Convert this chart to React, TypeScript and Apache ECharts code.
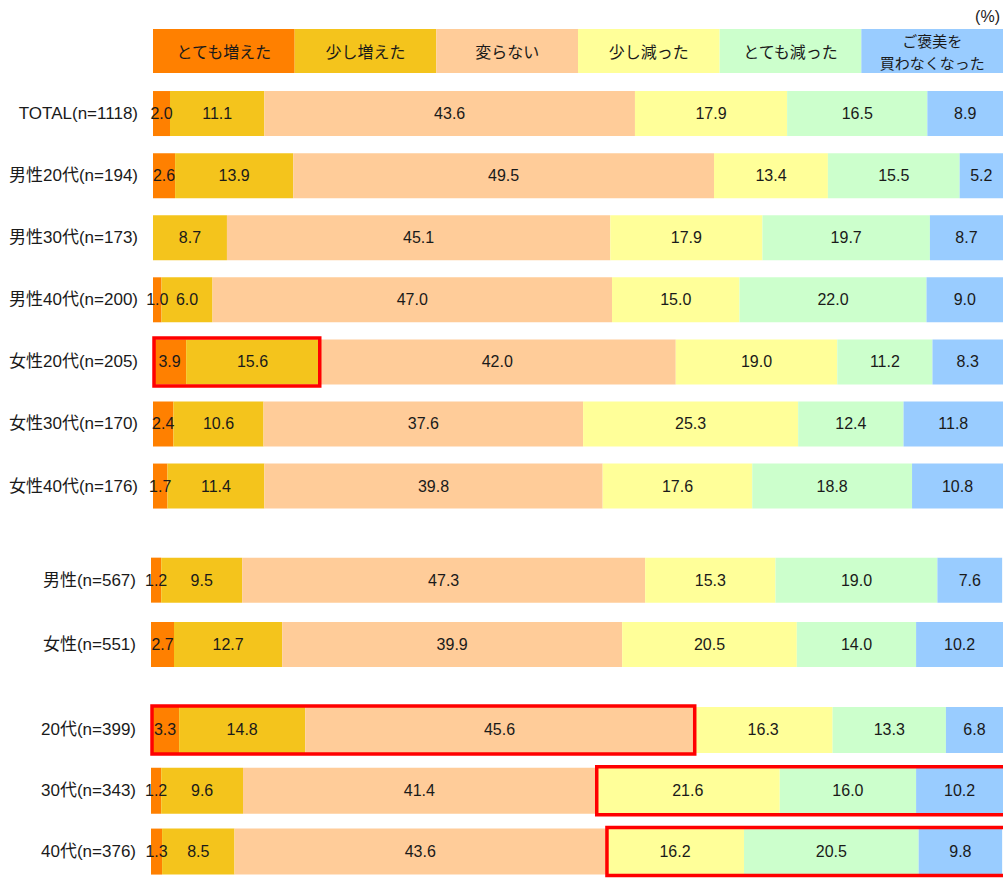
import React, { useEffect, useRef } from 'react';
import * as echarts from 'echarts';

// Row labels, split into the three blocks of the chart
const ageGenderRows = [
  'TOTAL(n=1118)',
  '男性20代(n=194)',
  '男性30代(n=173)',
  '男性40代(n=200)',
  '女性20代(n=205)',
  '女性30代(n=170)',
  '女性40代(n=176)',
];
const genderRows = ['男性(n=567)', '女性(n=551)'];
const ageRows = ['20代(n=399)', '30代(n=343)', '40代(n=376)'];
const rowGroups = [ageGenderRows, genderRows, ageRows];

// Answer categories (header boxes, one line per entry) and their colours
const answerNames = ['とても増えた', '少し増えた', '変らない', '少し減った', 'とても減った', 'ご褒美を買わなくなった'];
const headerLines = [['とても増えた'], ['少し増えた'], ['変らない'], ['少し減った'], ['とても減った'], ['ご褒美を', '買わなくなった']];
const answerColors = ['#FF8000', '#F4C41C', '#FFCC99', '#FFFF99', '#CCFFCC', '#99CCFF'];

// Shares (%) per row, in the order of all rows above
const veryIncreased = [2.0, 2.6, 0, 1.0, 3.9, 2.4, 1.7, 1.2, 2.7, 3.3, 1.2, 1.3];
const slightlyIncreased = [11.1, 13.9, 8.7, 6.0, 15.6, 10.6, 11.4, 9.5, 12.7, 14.8, 9.6, 8.5];
const unchanged = [43.6, 49.5, 45.1, 47.0, 42.0, 37.6, 39.8, 47.3, 39.9, 45.6, 41.4, 43.6];
const slightlyDecreased = [17.9, 13.4, 17.9, 15.0, 19.0, 25.3, 17.6, 15.3, 20.5, 16.3, 21.6, 16.2];
const veryDecreased = [16.5, 15.5, 19.7, 22.0, 11.2, 12.4, 18.8, 19.0, 14.0, 13.3, 16.0, 20.5];
const stoppedBuying = [8.9, 5.2, 8.7, 9.0, 8.3, 11.8, 10.8, 7.6, 10.2, 6.8, 10.2, 9.8];
const answerValues = [veryIncreased, slightlyIncreased, unchanged, slightlyDecreased, veryDecreased, stoppedBuying];

// Segments outlined in red: row label and answer index range
const highlights = [
  { row: '女性20代(n=205)', from: 0, to: 1 },
  { row: '20代(n=399)', from: 0, to: 2 },
  { row: '30代(n=343)', from: 3, to: 5 },
  { row: '40代(n=376)', from: 3, to: 5 },
];

const SANS = "'Liberation Sans', Arial, 'Noto Sans CJK JP', sans-serif";
const CJK = "'Noto Sans CJK JP', sans-serif";
const TEXT = '#1a1a1a';
const WIDTH = 1003;
const HEIGHT = 882;

const gridLayouts = [
  { left: 153, right: 0, top: 82.5, height: 434.6 },
  { left: 151, right: 0, top: 548, height: 128.6 },
  { left: 151, right: 0, top: 699.5, height: 190.5 },
];

export default function App() {
  const ref = useRef<HTMLDivElement>(null);

  useEffect(() => {
    if (!ref.current) return;
    const chart = echarts.init(ref.current, null, { renderer: 'svg' });

    const allRows = rowGroups.flat();
    const rowIndex = (name: string) => allRows.indexOf(name);

    const series: any[] = [];
    let offset = 0;
    rowGroups.forEach((rows, g) => {
      answerNames.forEach((name, a) => {
        series.push({
          type: 'bar',
          name,
          stack: 'g' + g,
          xAxisIndex: g,
          yAxisIndex: g,
          barWidth: g === 2 ? 46 : 45,
          itemStyle: { color: answerColors[a] },
          label: {
            show: true,
            position: 'inside',
            color: TEXT,
            fontSize: 16,
            fontFamily: SANS,
            formatter: (p: any) => (p.value > 0 ? Number(p.value).toFixed(1) : ''),
          },
          emphasis: { disabled: true },
          data: answerValues[a].slice(offset, offset + rows.length),
        });
      });
      offset += rows.length;
    });

    const option: any = {
      animation: false,
      grid: gridLayouts.map((l) => ({ ...l, containLabel: false })),
      xAxis: rowGroups.map((_, g) => ({
        type: 'value',
        gridIndex: g,
        min: 0,
        max: 100,
        show: false,
      })),
      yAxis: rowGroups.map((rows, g) => ({
        type: 'category',
        gridIndex: g,
        inverse: true,
        data: rows,
        axisLine: { show: false },
        axisTick: { show: false },
        axisLabel: {
          color: TEXT,
          fontSize: 17,
          fontFamily: SANS,
          margin: 15,
        },
      })),
      series,
    };
    chart.setOption(option);

    // Header boxes spanning the plot width in six equal columns
    const headerLeft = gridLayouts[0].left;
    const headerW = (WIDTH - headerLeft) / answerNames.length;
    const headerTop = 29;
    const headerH = 44;
    const graphics: any[] = [];
    headerLines.forEach((lines, i) => {
      graphics.push({
        type: 'rect',
        z: 100,
        shape: { x: headerLeft + i * headerW, y: headerTop, width: headerW, height: headerH },
        style: { fill: answerColors[i] },
      });
      const lineGap = 22;
      const firstY = headerTop + headerH / 2 - ((lines.length - 1) * lineGap) / 2;
      lines.forEach((line, k) => {
        graphics.push({
          type: 'text',
          z: 101,
          x: headerLeft + i * headerW + headerW / 2,
          y: firstY + k * lineGap,
          style: {
            text: line,
            align: 'center',
            verticalAlign: 'middle',
            fill: TEXT,
            fontSize: lines.length > 1 ? 15 : 16,
            fontFamily: CJK,
          },
        });
      });
    });
    graphics.push({
      type: 'text',
      z: 101,
      x: 1000,
      y: 16,
      style: {
        text: '(%)',
        align: 'right',
        verticalAlign: 'middle',
        fill: TEXT,
        fontSize: 16,
        fontFamily: SANS,
      },
    });

    // Red outlines around the highlighted segments, placed from the data
    highlights.forEach((h) => {
      const g = rowGroups.findIndex((rows) => rows.includes(h.row));
      const ri = rowIndex(h.row);
      let start = 0;
      for (let a = 0; a < h.from; a++) start += answerValues[a][ri];
      let end = start;
      for (let a = h.from; a <= h.to; a++) end += answerValues[a][ri];
      const p0 = chart.convertToPixel({ gridIndex: g }, [start, h.row]) as number[];
      const p1 = chart.convertToPixel({ gridIndex: g }, [end, h.row]) as number[];
      const half = 24;
      // outlines that reach the right edge run past it, as the bars do
      const right = end >= 99.9 ? WIDTH + 6 : p1[0] + 1;
      graphics.push({
        type: 'rect',
        z: 110,
        shape: { x: p0[0] + 1, y: p0[1] - half, width: right - p0[0] - 1, height: half * 2 },
        style: { fill: 'none', stroke: '#FF0000', lineWidth: 3.5 },
      });
    });

    chart.setOption({ graphic: graphics });

    return () => chart.dispose();
  }, []);

  return (
    <div
      ref={ref}
      style={{ position: 'fixed', left: 0, top: 0, width: WIDTH, height: HEIGHT, background: '#fff' }}
    />
  );
}
